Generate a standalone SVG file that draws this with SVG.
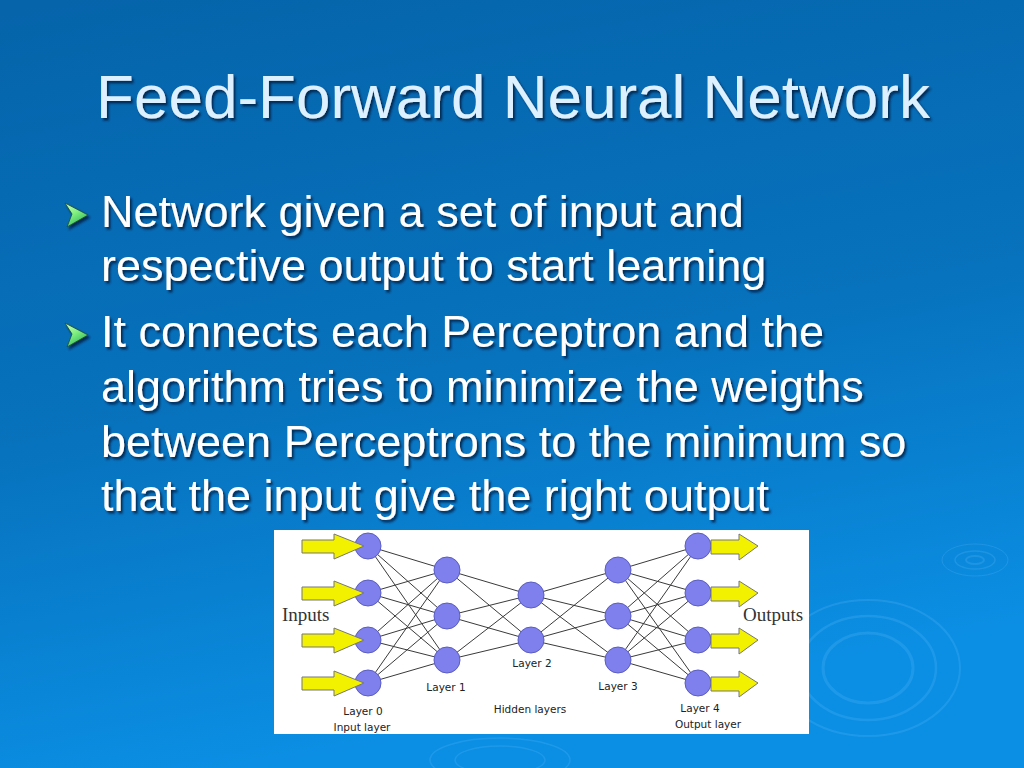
<svg xmlns="http://www.w3.org/2000/svg" width="1024" height="768" viewBox="0 0 1024 768">
<defs>
<linearGradient id="bg" x1="0" y1="0" x2="0.25" y2="1">
<stop offset="0" stop-color="#0564aa"/>
<stop offset="0.55" stop-color="#0772bd"/>
<stop offset="1" stop-color="#0b8fe4"/>
</linearGradient>
<linearGradient id="bul" x1="0" y1="0" x2="0.6" y2="1">
<stop offset="0" stop-color="#d0ffc0"/>
<stop offset="0.5" stop-color="#80f080"/>
<stop offset="1" stop-color="#30b858"/>
</linearGradient>
<filter id="sh" x="-5%" y="-20%" width="110%" height="150%">
<feDropShadow dx="2" dy="2.5" stdDeviation="0.8" flood-color="#002244" flood-opacity="0.85"/>
</filter>
<polygon id="inArrow" points="0,-6 32,-6 32,-12 62,0 32,13 32,7 0,7"/>
<polygon id="outArrow" points="0,-6 28,-6 28,-12 47,0 28,14 28,8 0,8"/>
<polygon id="bullet" points="0,0 23,12 2,24 7,11"/>
</defs>
<style>
.title{font-family:"Liberation Sans",Arial,sans-serif;font-size:62px;fill:#dcf0ff}
.body{font-family:"Liberation Sans",Arial,sans-serif;font-size:45px;fill:#ffffff}
.lbl{font-family:"DejaVu Sans","Liberation Sans",sans-serif;font-size:10.5px;fill:#222;text-anchor:middle}
.io{font-family:"Liberation Serif","Times New Roman",serif;font-size:19px;fill:#333}
.node circle{fill:#7f80ee;stroke:#5a5cc0;stroke-width:1}
.conn line{stroke:#3a3a3a;stroke-width:1}
.arr{fill:#f2f200;stroke:#777;stroke-width:1}
.rip{fill:none;stroke:#6cc4ff;stroke-opacity:0.2}
</style>
<rect width="1024" height="768" fill="url(#bg)"/>
<g id="ripples">
<ellipse class="rip" cx="975" cy="560" rx="9" ry="4" stroke-width="2"/>
<ellipse class="rip" cx="975" cy="560" rx="20" ry="9" stroke-width="1.5"/>
<ellipse class="rip" cx="975" cy="560" rx="33" ry="16" stroke-width="1"/>
<ellipse class="rip" cx="868" cy="668" rx="45" ry="35" stroke-width="3"/>
<ellipse class="rip" cx="868" cy="668" rx="68" ry="52" stroke-width="2.5"/>
<ellipse class="rip" cx="868" cy="668" rx="92" ry="68" stroke-width="2"/>
<ellipse class="rip" cx="500" cy="760" rx="70" ry="22" stroke-width="1.5"/>
<ellipse class="rip" cx="500" cy="760" rx="45" ry="14" stroke-width="1.5"/>
</g>
<text class="title" x="513" y="118" text-anchor="middle" filter="url(#sh)">Feed-Forward Neural Network</text>
<g id="bullets" filter="url(#sh)">
<use href="#bullet" x="65" y="203" fill="url(#bul)" stroke="#1e4a30" stroke-width="0.8"/>
<use href="#bullet" x="65" y="323" fill="url(#bul)" stroke="#1e4a30" stroke-width="0.8"/>
<text class="body" x="101" y="227">Network given a set of input and</text>
<text class="body" x="101" y="281">respective output to start learning</text>
<text class="body" x="101" y="347">It connects each Perceptron and the</text>
<text class="body" x="101" y="402">algorithm tries to minimize the weigths</text>
<text class="body" x="101" y="457">between Perceptrons to the minimum so</text>
<text class="body" x="101" y="511">that the input give the right output</text>
</g>
<rect id="panel" x="274" y="530" width="535" height="204" fill="#ffffff"/>
<g id="connectors" class="conn">
<line x1="368" y1="546" x2="447" y2="570"/><line x1="368" y1="546" x2="447" y2="616"/><line x1="368" y1="546" x2="447" y2="660"/>
<line x1="368" y1="593" x2="447" y2="570"/><line x1="368" y1="593" x2="447" y2="616"/><line x1="368" y1="593" x2="447" y2="660"/>
<line x1="368" y1="640" x2="447" y2="570"/><line x1="368" y1="640" x2="447" y2="616"/><line x1="368" y1="640" x2="447" y2="660"/>
<line x1="368" y1="683" x2="447" y2="570"/><line x1="368" y1="683" x2="447" y2="616"/><line x1="368" y1="683" x2="447" y2="660"/>
<line x1="447" y1="570" x2="531" y2="595"/><line x1="447" y1="570" x2="531" y2="640"/>
<line x1="447" y1="616" x2="531" y2="595"/><line x1="447" y1="616" x2="531" y2="640"/>
<line x1="447" y1="660" x2="531" y2="595"/><line x1="447" y1="660" x2="531" y2="640"/>
<line x1="531" y1="595" x2="618" y2="570"/><line x1="531" y1="595" x2="618" y2="616"/><line x1="531" y1="595" x2="618" y2="660"/>
<line x1="531" y1="640" x2="618" y2="570"/><line x1="531" y1="640" x2="618" y2="616"/><line x1="531" y1="640" x2="618" y2="660"/>
<line x1="618" y1="570" x2="698" y2="546"/><line x1="618" y1="570" x2="698" y2="593"/><line x1="618" y1="570" x2="698" y2="640"/><line x1="618" y1="570" x2="698" y2="683"/>
<line x1="618" y1="616" x2="698" y2="546"/><line x1="618" y1="616" x2="698" y2="593"/><line x1="618" y1="616" x2="698" y2="640"/><line x1="618" y1="616" x2="698" y2="683"/>
<line x1="618" y1="660" x2="698" y2="546"/><line x1="618" y1="660" x2="698" y2="593"/><line x1="618" y1="660" x2="698" y2="640"/><line x1="618" y1="660" x2="698" y2="683"/>
</g>
<g id="layer0" class="node">
<circle cx="368" cy="546" r="13"/><circle cx="368" cy="593" r="13"/><circle cx="368" cy="640" r="13"/><circle cx="368" cy="683" r="13"/>
</g>
<g id="layer1" class="node">
<circle cx="447" cy="570" r="13"/><circle cx="447" cy="616" r="13"/><circle cx="447" cy="660" r="13"/>
</g>
<g id="layer2" class="node">
<circle cx="531" cy="595" r="13"/><circle cx="531" cy="640" r="13"/>
</g>
<g id="layer3" class="node">
<circle cx="618" cy="570" r="13"/><circle cx="618" cy="616" r="13"/><circle cx="618" cy="660" r="13"/>
</g>
<g id="layer4" class="node">
<circle cx="698" cy="546" r="13"/><circle cx="698" cy="593" r="13"/><circle cx="698" cy="640" r="13"/><circle cx="698" cy="683" r="13"/>
</g>
<g id="input-arrows" class="arr">
<use href="#inArrow" x="302" y="546"/><use href="#inArrow" x="302" y="593"/><use href="#inArrow" x="302" y="640"/><use href="#inArrow" x="302" y="683"/>
</g>
<g id="output-arrows" class="arr">
<use href="#outArrow" x="711" y="546"/><use href="#outArrow" x="711" y="593"/><use href="#outArrow" x="711" y="640"/><use href="#outArrow" x="711" y="683"/>
</g>
<g id="labels">
<text class="io" x="282" y="621">Inputs</text>
<text class="io" x="743" y="621">Outputs</text>
<text class="lbl" x="363" y="715">Layer 0</text>
<text class="lbl" x="362" y="731">Input layer</text>
<text class="lbl" x="446" y="691">Layer 1</text>
<text class="lbl" x="532" y="667">Layer 2</text>
<text class="lbl" x="530" y="713">Hidden layers</text>
<text class="lbl" x="618" y="690">Layer 3</text>
<text class="lbl" x="700" y="712">Layer 4</text>
<text class="lbl" x="708" y="728">Output layer</text>
</g>
</svg>
